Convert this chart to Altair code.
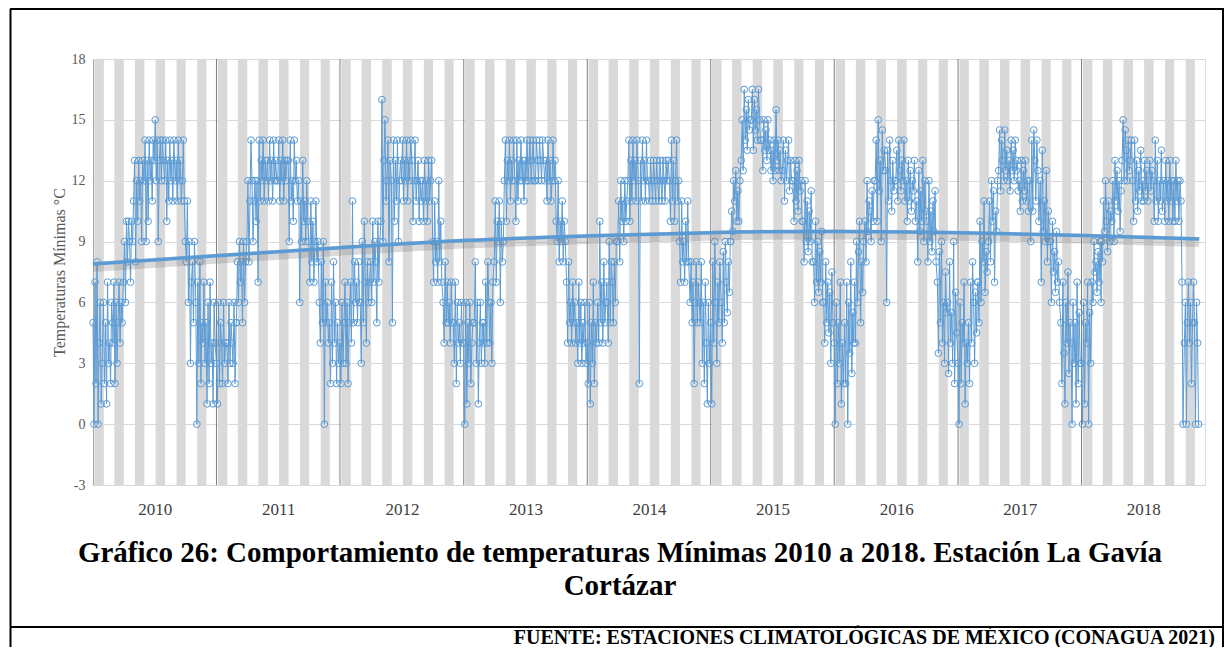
import altair as alt
import pandas as pd

# ---------------- data ----------------
years = [2010, 2011, 2012, 2013, 2014, 2015, 2016, 2017, 2018]

# minimum temperature samples, 10 per month (about every 3 days), Jan..Dec
tmin_2010 = [5, 0, 7, 2, 8, 0, 4, 6, 1, 3,
             6, 2, 5, 1, 7, 3, 4, 2, 6, 5,
             4, 7, 2, 6, 3, 5, 7, 4, 6, 5,
             7, 9, 6, 10, 8, 10, 9, 7, 10, 9,
             11, 13, 8, 12, 10, 13, 11, 12, 9, 13,
             12, 14, 9, 13, 10, 14, 12, 13, 11, 14,
             13, 15, 12, 14, 9, 13, 14, 12, 14, 13,
             12, 14, 10, 13, 11, 14, 12, 13, 11, 14,
             12, 13, 11, 14, 12, 13, 11, 12, 14, 11,
             9, 8, 11, 6, 9, 3, 7, 8, 5, 9,
             6, 0, 7, 3, 8, 2, 5, 4, 7, 3,
             5, 1, 6, 2, 7, 3, 4, 1, 6, 4]
tmin_2011 = [3, 1, 6, 2, 5, 4, 2, 6, 3, 4,
             4, 2, 6, 3, 5, 4, 3, 6, 2, 5,
             5, 8, 6, 9, 7, 8, 5, 9, 6, 8,
             9, 12, 8, 11, 14, 12, 9, 11, 12, 10,
             12, 7, 14, 11, 13, 12, 14, 11, 13, 12,
             13, 11, 14, 12, 13, 11, 14, 12, 13, 12,
             12, 14, 11, 13, 12, 14, 11, 13, 12, 13,
             13, 9, 14, 11, 12, 10, 14, 12, 13, 11,
             12, 6, 11, 9, 13, 10, 11, 9, 12, 10,
             9, 7, 11, 8, 10, 7, 9, 11, 8, 9,
             6, 4, 8, 5, 9, 0, 7, 5, 6, 4,
             5, 2, 7, 3, 8, 4, 6, 2, 5, 3]
tmin_2012 = [4, 2, 6, 3, 5, 7, 3, 6, 2, 5,
             7, 4, 11, 5, 8, 6, 7, 5, 8, 6,
             6, 3, 9, 5, 10, 7, 4, 8, 6, 7,
             8, 6, 10, 7, 9, 8, 5, 10, 7, 9,
             10, 16, 9, 13, 15, 11, 12, 14, 8, 13,
             12, 5, 14, 10, 13, 11, 14, 9, 12, 13,
             12, 14, 11, 13, 12, 14, 11, 13, 12, 14,
             13, 10, 12, 14, 11, 12, 13, 10, 12, 11,
             12, 10, 13, 11, 12, 10, 13, 11, 12, 13,
             9, 7, 11, 8, 9, 7, 12, 8, 10, 7,
             6, 4, 8, 5, 7, 5, 6, 4, 7, 5,
             5, 3, 7, 2, 6, 4, 5, 3, 6, 4]
tmin_2013 = [4, 0, 6, 1, 5, 3, 6, 2, 4, 5,
             5, 8, 3, 6, 1, 4, 6, 3, 5, 4,
             5, 3, 7, 4, 8, 6, 4, 6, 3, 7,
             8, 11, 7, 10, 9, 11, 6, 10, 8, 9,
             12, 14, 10, 13, 12, 14, 11, 13, 12, 14,
             12, 10, 14, 11, 13, 12, 14, 12, 13, 11,
             13, 12, 14, 12, 13, 14, 12, 13, 14, 12,
             12, 14, 13, 12, 14, 13, 12, 14, 13, 12,
             13, 11, 14, 12, 13, 11, 12, 14, 12, 13,
             10, 9, 12, 8, 10, 9, 11, 8, 10, 9,
             7, 4, 8, 5, 6, 4, 7, 5, 6, 4,
             5, 3, 7, 4, 6, 3, 5, 4, 6, 3]
tmin_2014 = [4, 2, 6, 1, 5, 3, 7, 2, 5, 4,
             6, 4, 10, 5, 7, 4, 8, 5, 6, 7,
             6, 4, 9, 5, 8, 7, 5, 8, 6, 9,
             9, 11, 8, 12, 10, 11, 9, 12, 10, 11,
             12, 14, 10, 13, 11, 14, 12, 13, 11, 14,
             12, 2, 13, 11, 14, 12, 13, 11, 14, 12,
             12, 11, 13, 12, 11, 13, 12, 11, 13, 12,
             11, 13, 12, 11, 13, 12, 11, 13, 12, 13,
             12, 10, 14, 11, 13, 10, 12, 14, 11, 12,
             9, 7, 11, 8, 9, 7, 10, 8, 11, 8,
             6, 8, 5, 7, 2, 6, 8, 5, 7, 6,
             5, 8, 3, 6, 2, 7, 4, 1, 6, 3]
tmin_2015 = [5, 1, 8, 4, 9, 6, 3, 7, 5, 8,
             6, 4, 8.5, 5, 9, 7, 5.5, 8, 6.5, 9,
             9, 10.5, 9.5, 12, 11, 12.5, 10, 11.5, 10, 12,
             13, 15, 12.5, 16.5, 14, 15.5, 13.5, 16, 14.5, 15,
             15, 16.5, 13.5, 16, 14.5, 15.5, 14, 16.5, 15, 14,
             14, 12.5, 15, 13.5, 14.5, 13, 15, 13.5, 14, 12.5,
             13.5, 12, 14, 12.5, 15.5, 13, 14, 12.5, 13.5, 12,
             12.5, 14, 11, 13.5, 12, 13, 14, 11.5, 13, 12,
             12, 10, 13, 11, 12.5, 10.5, 13, 11.5, 12, 10,
             10, 8, 12, 9, 11, 8.5, 10.5, 9, 11.5, 8,
             8, 6, 10, 7, 9, 6.5, 8.5, 7, 9.5, 6,
             6, 4, 8, 5, 7, 4.5, 6.5, 3, 7.5, 5]
tmin_2016 = [4, 0, 6, 2, 5, 3, 7, 1, 4, 2,
             5, 2, 7, 0, 6, 3.5, 8, 2.5, 5.5, 4,
             7, 4, 9, 6, 8.5, 10, 5, 8, 6.5, 9,
             10, 8, 12, 9.5, 11, 10.5, 9, 11.5, 10, 12,
             12, 14, 10, 15, 11.5, 13, 9, 14.5, 12.5, 13.5,
             12.5, 6, 13.5, 11, 14, 12, 10.5, 13, 11.5, 12,
             12, 13.5, 11, 14, 12.5, 11.5, 13, 12, 14, 11,
             12, 10, 13, 11, 12.5, 10.5, 12, 11.5, 13, 10,
             11, 8, 12.5, 9.5, 11.5, 10, 13, 9, 12, 10.5,
             10, 8, 12, 9, 10.5, 8.5, 11, 9.5, 11.5, 8,
             7, 3.5, 8.5, 5, 9, 4, 6, 3, 7.5, 5.5,
             6, 2.5, 8, 4, 5.5, 3, 9, 2, 6.5, 4.5]
tmin_2017 = [3, 0, 6, 2, 5, 4, 7, 1, 4, 3,
             5, 2, 7, 4, 8, 6, 3, 6.5, 4.5, 7,
             7, 5, 10, 6, 9, 8, 11, 6.5, 8.5, 7.5,
             9, 11, 8, 12, 10, 11.5, 7, 10.5, 9.5, 12,
             12.5, 14.5, 11.5, 14, 13, 12, 14.5, 12.5, 13.5, 12,
             13, 11.5, 14, 12.5, 13.5, 12, 14, 12.5, 13, 11.5,
             12, 10.5, 13, 11, 12.5, 11.5, 13, 11, 12, 10.5,
             12, 9, 14, 10.5, 14.5, 13, 11, 14, 12.5, 10,
             12, 7, 13.5, 9.5, 11, 9, 12.5, 8, 10.5, 9,
             9, 6, 10, 7.5, 8.5, 6.5, 9.5, 7, 8, 6,
             5, 2, 7, 3.5, 1, 6, 4, 7.5, 2.5, 5,
             4, 0, 6, 3, 5, 1, 7, 2, 5.5, 3]
tmin_2018 = [3, 0, 6, 1, 5, 4, 7, 0, 5.5, 3,
             7, 6, 9, 7.5, 8, 6.5, 8.5, 7, 9, 6,
             9, 8, 11, 9.5, 12, 10, 8.5, 11, 9, 10.5,
             10, 12, 9, 13, 11, 12.5, 10.5, 12, 9.5, 11.5,
             13, 15, 12, 14.5, 13.5, 12, 14, 12.5, 13, 14,
             12, 10, 14, 11, 13, 10.5, 12.5, 11.5, 13.5, 11,
             12, 11, 13, 11.5, 12.5, 11, 12, 13, 11.5, 12.5,
             12, 10, 14, 11, 13, 10, 12, 11, 13.5, 10.5,
             12, 10, 13, 11, 12, 10, 13, 11, 12, 10,
             12, 10, 13, 11, 12, 10, 12, 11, 7, 0,
             4, 6, 0, 5, 7, 4, 6, 2, 5, 7,
             5, 0, 6, 4, 0]
series = [tmin_2010, tmin_2011, tmin_2012, tmin_2013, tmin_2014,
          tmin_2015, tmin_2016, tmin_2017, tmin_2018]
per_month = 10

# polynomial trend curve read at the start of each year (+ end of series)
trend_dates = ["2010-01-01", "2011-01-01", "2012-01-01", "2013-01-01", "2014-01-01",
               "2015-01-01", "2016-01-01", "2017-01-01", "2018-01-01", "2018-12-15"]
trend_values = [7.9, 8.3, 8.7, 9.05, 9.27, 9.44, 9.5, 9.44, 9.3, 9.13]

y_ticks = [-3, 0, 3, 6, 9, 12, 15, 18]
stripe_months = [1, 3, 5, 7, 9, 11]

title_line1 = "Gráfico 26: Comportamiento de temperaturas Mínimas 2010 a 2018. Estación La Gavía"
title_line2 = "Cortázar"
source_text = "FUENTE: ESTACIONES CLIMATOLÓGICAS DE MÉXICO (CONAGUA 2021)"
y_title = "Temperaturas Mínimas °C"

# ---------------- tables ----------------
rows = []
for yr, vals in zip(years, series):
    for i, v in enumerate(vals):
        m = i // per_month + 1
        d = 1 + 3 * (i % per_month)
        rows.append({"fecha": pd.Timestamp(yr, m, d), "tmin": v})
df = pd.DataFrame(rows)

stripes = pd.DataFrame(
    [{"ini": pd.Timestamp(yr, m, 5), "fin": pd.Timestamp(yr, m + 1, 2)}
     for yr in years for m in stripe_months]
)
seps = pd.DataFrame({"fecha": [pd.Timestamp(yr, 1, 1) for yr in years[1:]]})
labels = pd.DataFrame({"fecha": [pd.Timestamp(yr, 7, 4) for yr in years],
                       "txt": [str(yr) for yr in years]})
trend = pd.DataFrame({"fecha": pd.to_datetime(trend_dates), "v": trend_values})
one = pd.DataFrame({"k": [0]})

W, H = 1112, 426
SERIF = "Liberation Serif"
BLUE = "#5B9BD5"

xscale = alt.Scale(domain=[alt.DateTime(year=2010, month=1, date=1),
                           alt.DateTime(year=2019, month=1, date=1)])
yscale = alt.Scale(domain=[-3, 18], nice=False, zero=False)

stripe_layer = alt.Chart(stripes).mark_rect(color="#d9d9d9").encode(
    x=alt.X("ini:T", scale=xscale, axis=None),
    x2="fin:T",
    y=alt.value(0), y2=alt.value(H),
)

sep_layer = alt.Chart(seps).mark_rule(color="#7f7f7f", strokeWidth=1).encode(
    x=alt.X("fecha:T", scale=xscale, axis=None),
    y=alt.value(0), y2=alt.value(H),
)

line_layer = alt.Chart(df).mark_line(
    color=BLUE, strokeWidth=1,
    point=alt.OverlayMarkDef(filled=False, shape="circle", size=45, color=BLUE, strokeWidth=1),
).encode(
    x=alt.X("fecha:T", scale=xscale, axis=None),
    y=alt.Y("tmin:Q", scale=yscale,
            axis=alt.Axis(values=y_ticks, title=y_title, grid=True, gridColor="#d9d9d9",
                          ticks=False, domainColor="#a6a6a6", labelFont=SERIF, labelFontSize=14,
                          labelColor="#595959", labelPadding=8, titleFont=SERIF,
                          labelExpr="'' + datum.value",
                          titleFontSize=16, titleFontWeight="normal", titleColor="#595959",
                          titlePadding=4)),
)

shadow_layer = alt.Chart(trend).mark_line(
    color="#7f7f7f", strokeWidth=10, opacity=0.28, yOffset=3, interpolate="monotone"
).encode(x=alt.X("fecha:T", scale=xscale, axis=None), y=alt.Y("v:Q", scale=yscale))

trend_layer = alt.Chart(trend).mark_line(
    color=BLUE, strokeWidth=3.5, interpolate="monotone"
).encode(x=alt.X("fecha:T", scale=xscale, axis=None), y=alt.Y("v:Q", scale=yscale))

year_layer = alt.Chart(labels).mark_text(
    font=SERIF, fontSize=17, color="#404040", baseline="middle"
).encode(x=alt.X("fecha:T", scale=xscale, axis=None), y=alt.value(451), text="txt:N")

def txt(s, x, y, size, align="center", weight="bold"):
    return alt.Chart(one).mark_text(
        text=s, font=SERIF, fontSize=size, fontWeight=weight, color="#000000",
        align=align, baseline="middle"
    ).encode(x=alt.value(x), y=alt.value(y))

def rule(x1, x2, y1, y2, w=2):
    return alt.Chart(one).mark_rule(color="#000000", strokeWidth=w).encode(
        x=alt.value(x1), x2=alt.value(x2), y=alt.value(y1), y2=alt.value(y2))

t1 = txt(title_line1, 527, 494, 29)
t2 = txt(title_line2, 527, 527, 29)
src = txt(source_text, 1122, 578.5, 20, align="right")

frame = [
    rule(-83, 1131, -50, -50),      # top
    rule(-82.5, -82.5, -50, 590),   # left
    rule(1130, 1130, -50, 590),     # right
    rule(-83, 1131, 568, 568),      # separator above source
]

chart = alt.layer(
    stripe_layer, sep_layer, line_layer, shadow_layer, trend_layer, year_layer,
    t1, t2, src, *frame
).properties(
    width=W, height=H,
    padding={"left": 85, "top": 51, "right": 19, "bottom": 162},
    autosize=alt.AutoSizeParams(type="none"),
).configure_view(
    stroke="#a6a6a6", strokeWidth=1
).configure(background="white")

chart.save("out.html", embed_options={"renderer": "svg", "actions": False})
